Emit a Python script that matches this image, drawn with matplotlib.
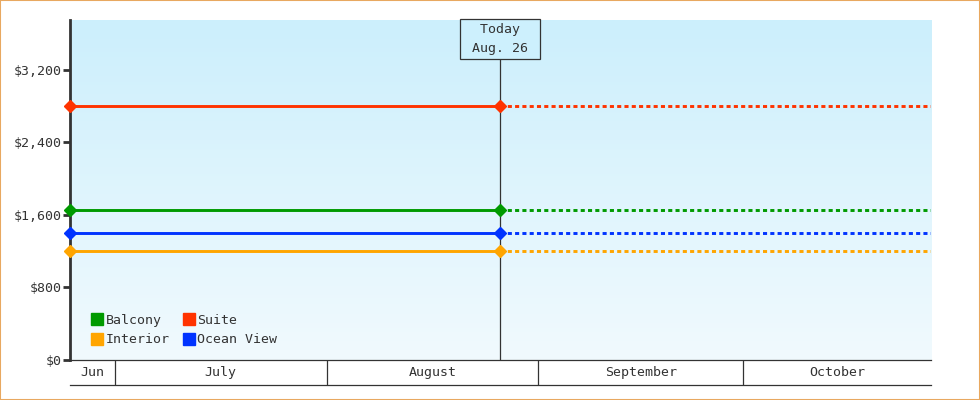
import datetime as dt
import numpy as np
import matplotlib
matplotlib.use('Agg')
import matplotlib.pyplot as plt
import matplotlib.dates as mdates
from matplotlib.lines import Line2D

# chart data
cabins = ['Balcony', 'Interior', 'Suite', 'Ocean View']
prices = [1650, 1200, 2800, 1400]
colors = ['#009a00', '#ffa500', '#ff3300', '#0033ff']

start = dt.datetime(2013, 6, 24, 10)
today = dt.datetime(2013, 8, 26, 10)
end = dt.datetime(2013, 10, 28, 12)

month_starts = [dt.datetime(2013, m, 1) for m in (7, 8, 9, 10)]
month_labels = ['Jun', 'July', 'August', 'September', 'October']

yticks = [0, 800, 1600, 2400, 3200]
ymax = 3750

ink = '#333333'
plt.rcParams['font.family'] = ['DejaVu Sans Mono']
plt.rcParams['font.size'] = 9.5

fig = plt.figure(figsize=(9.8, 4), dpi=100)
fig.patches.append(plt.Rectangle((0, 0), 1, 1, transform=fig.transFigure,
                                 fill=False, edgecolor='#e8a860', lw=1.5))
ax = fig.add_axes([70/980, 40/400, 861/980, 340/400])

# background gradient
top_c = np.array([204, 239, 252]) / 255
bot_c = np.array([241, 250, 254]) / 255
t = np.linspace(0, 1, 256)[:, None]
grad = (top_c * (1 - t) + bot_c * t)[:, None, :]
ax.imshow(grad, extent=[0, 1, 0, 1], transform=ax.transAxes,
          aspect='auto', zorder=0)

for name, p, c in zip(cabins, prices, colors):
    ax.plot([start, today], [p, p], color=c, lw=2.1, solid_capstyle='butt',
            zorder=3)
    ax.plot([start, today], [p, p], ls='none', marker='D', ms=6.5, color=c,
            zorder=4, clip_on=False)
    ax.plot([today, end], [p, p], color=c, lw=2.1, ls=(0, (1.4, 1.1)),
            zorder=3)

ax.set_xlim(start, end)
ax.set_ylim(0, ymax)

# today marker
ax.axvline(today, color=ink, lw=0.9, zorder=2)
ax.text(today, 0.99, ' Today \n Aug. 26 ', transform=ax.get_xaxis_transform(),
        ha='center', va='top', color=ink, linespacing=1.55, zorder=5,
        bbox=dict(boxstyle='square,pad=0.3', fc='#cdf0fd', ec=ink, lw=0.9))

# y axis
ax.set_yticks(yticks)
ax.set_yticklabels(['${:,}'.format(v) for v in yticks])
ax.tick_params(axis='y', length=5, width=2, color=ink, labelcolor=ink, pad=1)

# x axis as month boxes
ax.set_xticks(month_starts)
ax.set_xticklabels([])
ax.tick_params(axis='x', which='major', length=18, width=0.9, color=ink)
bounds = [mdates.date2num(start)] + [mdates.date2num(d) for d in month_starts] \
    + [mdates.date2num(end)]
centers = [(a + b) / 2 for a, b in zip(bounds[:-1], bounds[1:])]
ax.set_xticks(centers, minor=True)
ax.set_xticklabels(month_labels, minor=True)
ax.tick_params(axis='x', which='minor', length=0, labelcolor=ink, pad=4)
ax.plot([0, 1], [-25/340, -25/340], transform=ax.transAxes, color=ink,
        lw=0.9, clip_on=False)

for s in ['top', 'right']:
    ax.spines[s].set_visible(False)
ax.spines['left'].set_linewidth(2)
ax.spines['left'].set_color(ink)
ax.spines['bottom'].set_linewidth(0.9)
ax.spines['bottom'].set_color(ink)

handles = [Line2D([], [], ls='none', marker='s', ms=8, color=c) for c in colors]
ax.legend(handles, cabins, ncol=2, loc='lower left', bbox_to_anchor=(0.012, 0.005),
          frameon=False, handlelength=0.8, handletextpad=0.2,
          columnspacing=1.1, labelspacing=0.5, labelcolor=ink)

fig.savefig('out.png', dpi=100)
